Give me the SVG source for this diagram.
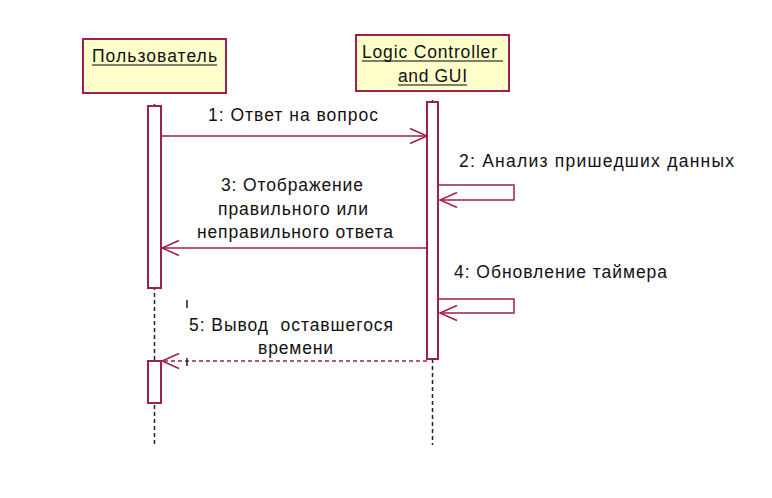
<svg xmlns="http://www.w3.org/2000/svg" width="772" height="498" viewBox="0 0 772 498">
<style>
.obj{fill:#ffffcc;stroke:#a0204c;stroke-width:2}
.act{fill:#ffffff;stroke:#a0204c;stroke-width:2}
.life{stroke:#222;stroke-width:1.5;stroke-dasharray:4,3;fill:none}
.msg{stroke:#a0204c;stroke-width:1.5;fill:none}
.ret{stroke:#a0204c;stroke-width:1.5;fill:none;stroke-dasharray:4,3}
text{font-family:"Liberation Sans",Arial,sans-serif;font-size:17.5px;fill:#111}
.ul{stroke:#000;stroke-width:1}
.tick{stroke:#222;stroke-width:1.5}
</style>
<defs>
<marker id="open" markerUnits="userSpaceOnUse" markerWidth="24" markerHeight="20" viewBox="-20 -10 24 20" refX="0" refY="0" orient="auto">
<path d="M-17,-7.5 L0,0 L-17,7.5" fill="none" stroke="#a0204c" stroke-width="1.5"/>
</marker>
</defs>
<g id="lifelines">
<line class="life" x1="154.5" y1="104" x2="154.5" y2="445"/>
<line class="life" x1="432.5" y1="100" x2="432.5" y2="445"/>
</g>
<g id="user">
<rect class="obj" x="83" y="39" width="143" height="54"/>
<text x="92" y="62" textLength="125" lengthAdjust="spacing">Пользователь</text>
<line class="ul" x1="92" y1="65" x2="217" y2="65"/>
<rect class="act" x="148" y="106" width="13" height="182"/>
<rect class="act" x="148" y="361" width="13" height="42"/>
</g>
<g id="controller">
<rect class="obj" x="356" y="35" width="153" height="56"/>
<text x="362" y="58" textLength="135" lengthAdjust="spacing">Logic Controller</text>
<line class="ul" x1="362" y1="61" x2="503" y2="61"/>
<text x="398" y="82" textLength="69" lengthAdjust="spacing">and GUI</text>
<line class="ul" x1="398" y1="85" x2="467" y2="85"/>
<rect class="act" x="427" y="102" width="11" height="257"/>
</g>
<g id="connectors">
<line class="msg" x1="161" y1="136" x2="427" y2="136" marker-end="url(#open)"/>
<polyline class="msg" points="438,185 514,185 514,200 440,200" marker-end="url(#open)"/>
<line class="msg" x1="427" y1="248" x2="162" y2="248" marker-end="url(#open)"/>
<polyline class="msg" points="438,299 514,299 514,313 440,313" marker-end="url(#open)"/>
<line class="ret" x1="427" y1="361" x2="162" y2="361" marker-end="url(#open)"/>
<line class="tick" x1="187" y1="300" x2="187" y2="308"/>
<line class="tick" x1="187" y1="358" x2="187" y2="366"/>
</g>
<g id="labels">
<text x="208" y="121" textLength="170" lengthAdjust="spacing">1: Ответ на вопрос</text>
<text x="459" y="167" textLength="275" lengthAdjust="spacing">2: Анализ пришедших данных</text>
<text x="221" y="191" textLength="142" lengthAdjust="spacing">3: Отображение</text>
<text x="218" y="215" textLength="150" lengthAdjust="spacing">правильного или</text>
<text x="197" y="238" textLength="196" lengthAdjust="spacing">неправильного ответа</text>
<text x="454" y="278" textLength="213" lengthAdjust="spacing">4: Обновление таймера</text>
<text x="189" y="331" textLength="204" lengthAdjust="spacing" xml:space="preserve">5: Вывод  оставшегося</text>
<text x="258" y="354" textLength="75" lengthAdjust="spacing">времени</text>
</g>
</svg>
